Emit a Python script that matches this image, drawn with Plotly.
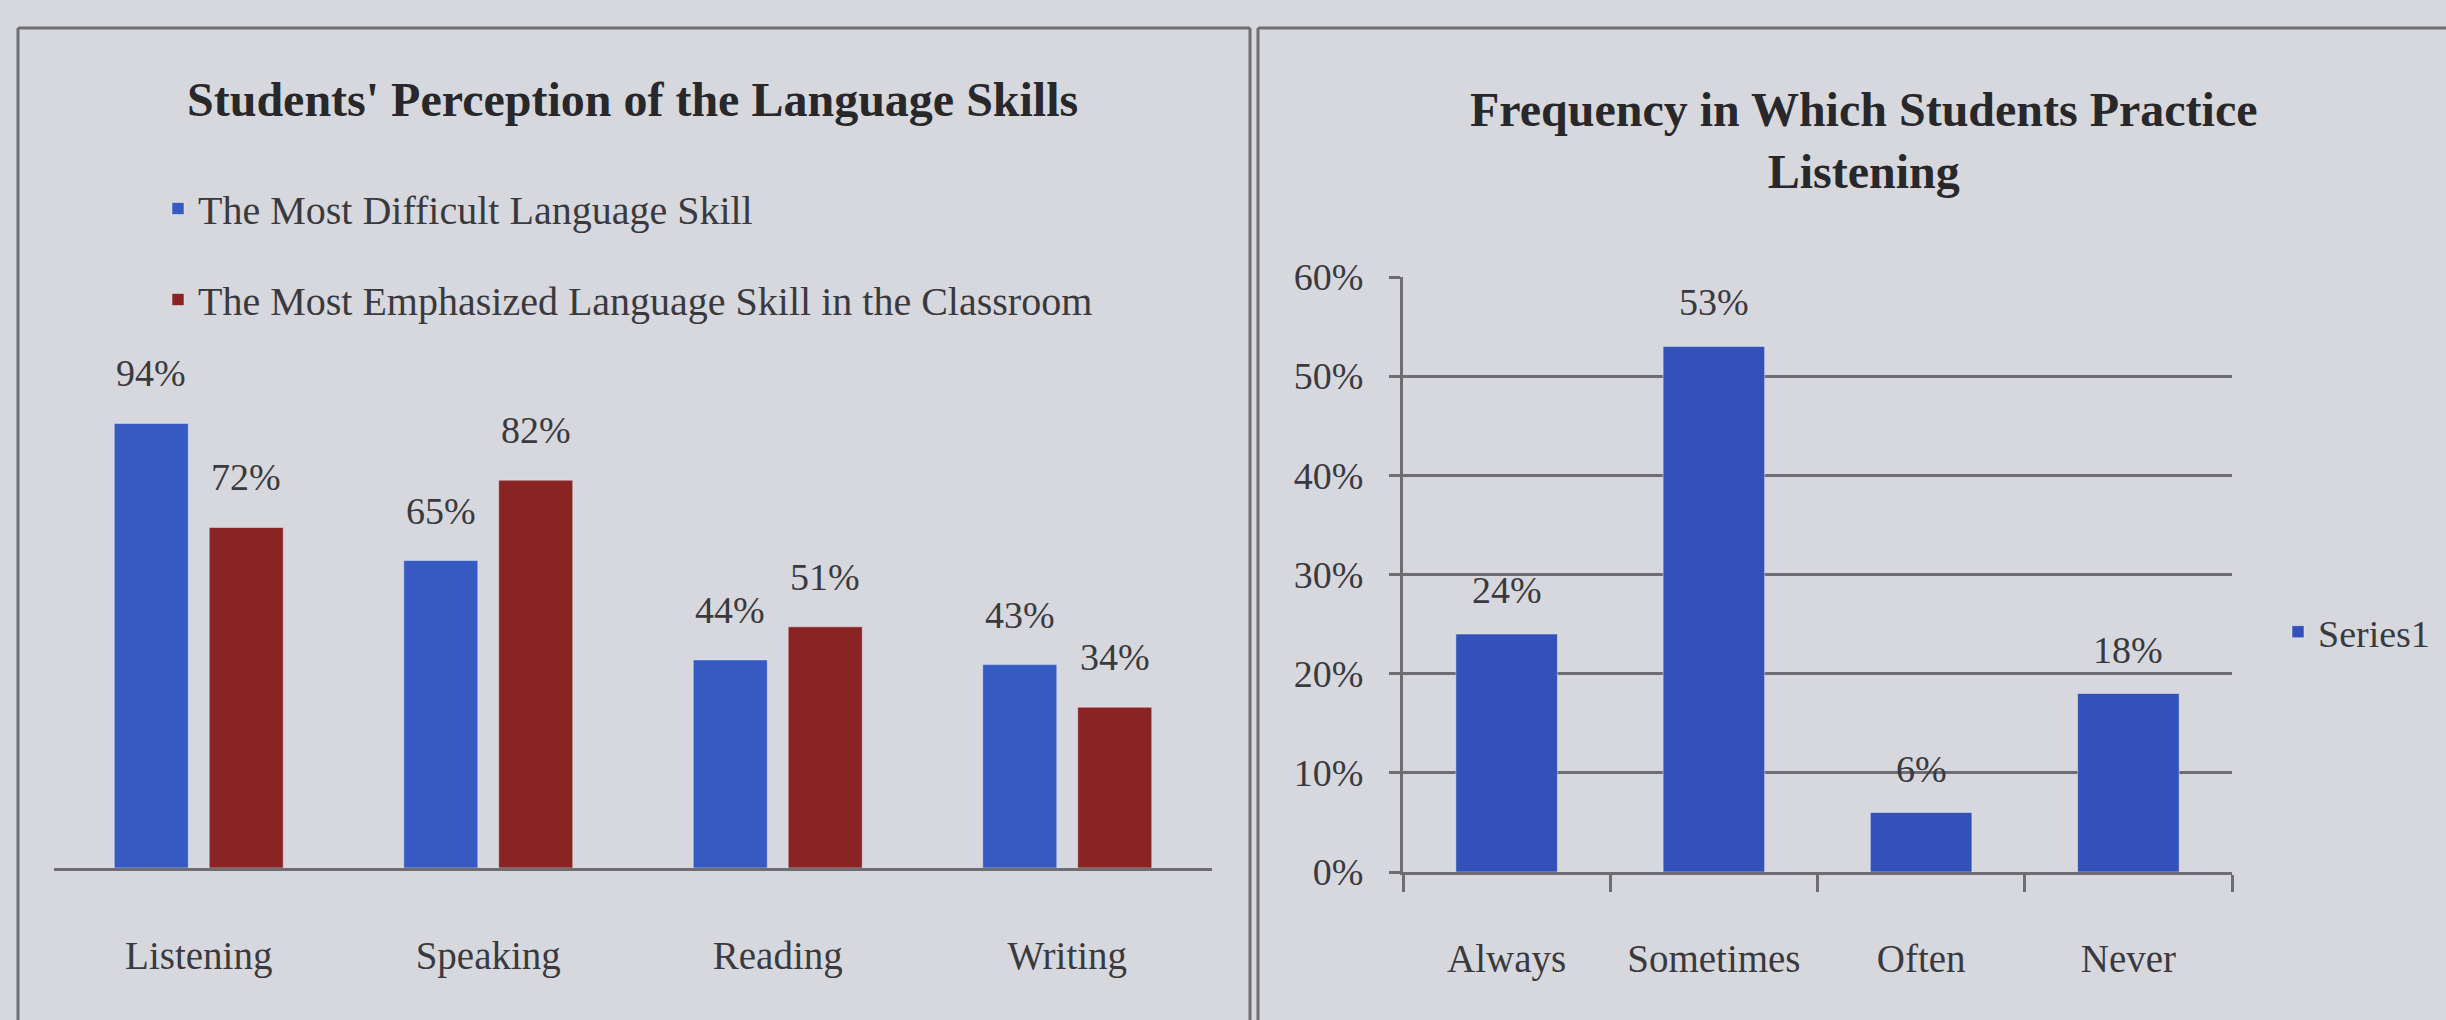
import plotly.graph_objects as go

# ---------------- data ----------------
skills = ["Listening", "Speaking", "Reading", "Writing"]
most_difficult = [94, 65, 44, 43]
most_emphasized = [72, 82, 51, 34]

freq_cats = ["Always", "Sometimes", "Often", "Never"]
freq_vals = [24, 53, 6, 18]
freq_ticks = [0, 10, 20, 30, 40, 50, 60]
freq_tick_labels = ["0%", "10%", "20%", "30%", "40%", "50%", "60%"]

title_left = "Students' Perception of the Language Skills"
title_right = "Frequency in Which Students Practice<br>Listening"
name_a = "The Most Difficult Language Skill"
name_b = "The Most Emphasized Language Skill in the Classroom"
name_c = "Series1"

# ---------------- style ----------------
W, H = 2446, 1020
FONT = "Liberation Serif"
BG = "#d7d8dd"
TXT = "#3a3a3e"
TITLE = "#28282b"
BLUE = "#3659c2"
RED = "#8a2424"
BLUE2 = "#3351b8"
LINE = "#6e6e72"


def px(x):
    return x / W


def py(y):
    return 1 - y / H


fig = go.Figure()
fig.add_trace(go.Bar(x=skills, y=most_difficult, name=name_a, marker_color=BLUE,
                     xaxis="x", yaxis="y", legend="legend", legendgroup="a"))
fig.add_trace(go.Bar(x=skills, y=most_emphasized, name=name_b, marker_color=RED,
                     xaxis="x", yaxis="y", legend="legend", legendgroup="b"))
fig.add_trace(go.Bar(x=freq_cats, y=freq_vals, name=name_c, marker_color=BLUE2, width=0.49,
                     xaxis="x2", yaxis="y2", legend="legend2"))

annotations = []
# data labels, left chart
for cat, va, vb in zip(skills, most_difficult, most_emphasized):
    for v, sh in ((va, -47.5), (vb, 47.5)):
        annotations.append(dict(x=cat, y=v, xref="x", yref="y", text=f"{v}%", showarrow=False,
                                xshift=sh, yshift=50, yanchor="middle",
                                font=dict(family=FONT, size=38, color=TXT)))
# data labels, right chart
for cat, v in zip(freq_cats, freq_vals):
    annotations.append(dict(x=cat, y=v, xref="x2", yref="y2", text=f"{v}%", showarrow=False,
                            yshift=44, yanchor="middle",
                            font=dict(family=FONT, size=38, color=TXT)))
# titles
annotations.append(dict(x=px(632), y=py(100), xref="paper", yref="paper", text=f"<b>{title_left}</b>",
                        showarrow=False, xanchor="center", yanchor="middle",
                        font=dict(family=FONT, size=48, color=TITLE)))
annotations.append(dict(x=px(1864), y=py(141), xref="paper", yref="paper", text=f"<b>{title_right}</b>",
                        showarrow=False, xanchor="center", yanchor="middle",
                        font=dict(family=FONT, size=48, color=TITLE)))

shapes = [
    dict(type="line", xref="paper", yref="paper", x0=px(18), x1=px(1250), y0=py(28), y1=py(28)),
    dict(type="line", xref="paper", yref="paper", x0=px(18), x1=px(18), y0=py(28), y1=0),
    dict(type="line", xref="paper", yref="paper", x0=px(1250), x1=px(1250), y0=py(28), y1=0),
    dict(type="line", xref="paper", yref="paper", x0=px(1258), x1=1, y0=py(28), y1=py(28)),
    dict(type="line", xref="paper", yref="paper", x0=px(1258), x1=px(1258), y0=py(28), y1=0),
]
for s in shapes:
    s["line"] = dict(color=LINE, width=3)

fig.update_layout(
    width=W, height=H,
    margin=dict(l=0, r=0, t=0, b=0, autoexpand=False),
    paper_bgcolor=BG, plot_bgcolor=BG,
    font=dict(family=FONT, size=38, color=TXT),
    barmode="group", bargap=0.344, bargroupgap=0.22,
    showlegend=True,
    annotations=annotations,
    shapes=shapes,
    xaxis=dict(domain=[px(54), px(1212)], anchor="y", showline=True, linecolor=LINE, linewidth=3,
               showgrid=False, ticks="", ticklabelstandoff=51, automargin=False,
               tickfont=dict(family=FONT, size=39, color=TXT)),
    yaxis=dict(domain=[py(868), py(395)], anchor="x", range=[0, 100], visible=False, automargin=False),
    xaxis2=dict(domain=[px(1403), px(2232)], anchor="y2", showline=True, linecolor=LINE, linewidth=3,
                ticks="outside", ticklen=17, tickwidth=3, tickcolor=LINE, tickson="boundaries",
                showgrid=False, ticklabelstandoff=50, automargin=False,
                tickfont=dict(family=FONT, size=39, color=TXT)),
    yaxis2=dict(domain=[py(872), py(277)], anchor="x2", range=[0, 60],
                tickmode="array", tickvals=freq_ticks, ticktext=freq_tick_labels,
                showline=True, linecolor=LINE, linewidth=3,
                ticks="outside", ticklen=11, tickwidth=3, tickcolor=LINE,
                showgrid=True, gridcolor=LINE, gridwidth=3, zeroline=False,
                ticklabelstandoff=18, automargin=False,
                tickfont=dict(family=FONT, size=38, color=TXT)),
    legend=dict(x=px(158), y=py(176), xanchor="left", yanchor="top", bgcolor="rgba(0,0,0,0)",
                traceorder="grouped", tracegroupgap=36,
                font=dict(family=FONT, size=40, color=TXT)),
    legend2=dict(x=px(2278), y=py(632), xanchor="left", yanchor="middle", bgcolor="rgba(0,0,0,0)",
                 font=dict(family=FONT, size=38, color=TXT)),
)

fig.write_html(
    "out.html",
    config={"displayModeBar": False},
    post_script="document.body.style.margin='0';document.documentElement.style.overflow='hidden';document.body.style.overflow='hidden';",
)
